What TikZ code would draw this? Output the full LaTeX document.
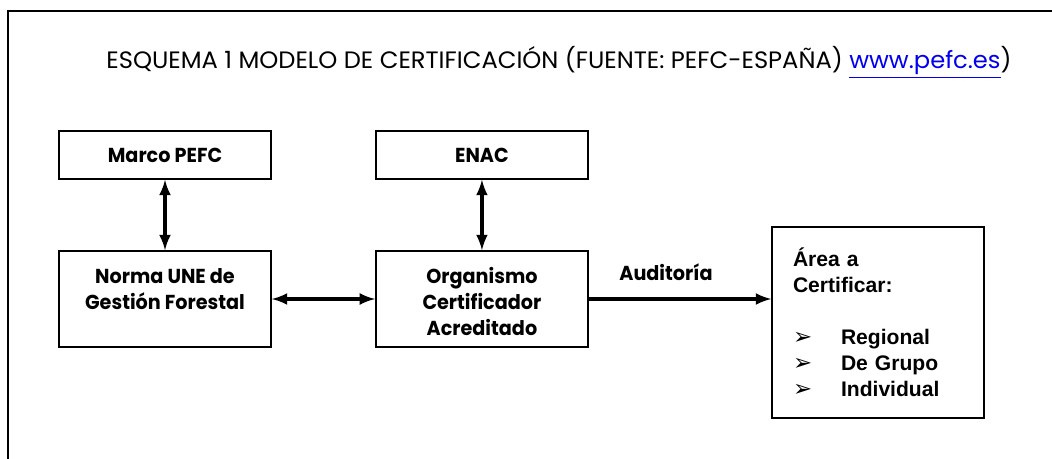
\documentclass[tikz,border=0pt]{standalone}
\usepackage{fontspec}
\usepackage{tikz}
\setmainfont{Poppins}
\newfontfamily\titlefont[FakeStretch=1.02]{Poppins}
\newfontfamily\boxfont[FakeStretch=0.95]{Poppins}
\newfontfamily\arialfont{Liberation Sans}
\newfontfamily\symfont{DejaVu Sans}
\usetikzlibrary{positioning,arrows}
\definecolor{linkblue}{RGB}{0,0,238}
\newcommand{\areaitem}[1]{\makebox[0.96cm][l]{\symfont\mdseries\fontsize{13}{14.8}\selectfont ➢}#1}

\begin{document}
\begin{tikzpicture}[x=0.02cm,y=-0.02cm,<->,>=latex,line width=2pt,
                    node distance=6.34cm]
  \tikzstyle{box}=[draw,line width=0.9pt,minimum width=4.24cm,align=center,
                   font=\boxfont\bfseries\fontsize{11.5}{14.8}\selectfont]
  \tikzstyle{top box}=[box,minimum height=0.96cm]
  \tikzstyle{low box}=[box,minimum height=1.92cm]

  \useasboundingbox (0,0) rectangle (1052,459);
  \draw[-,line width=1.1pt] (8,459) -- (8,11) -- (1052,11);

  \node[anchor=base,font=\titlefont\fontsize{13.5}{16}\selectfont] (title) at (559,69)
    {ESQUEMA 1 MODELO DE CERTIFICACIÓN (FUENTE: PEFC-ESPAÑA) \textcolor{linkblue}{\underline{www.pefc.es}})};

  \node[top box] (marco)                  at (165,155) {Marco PEFC};
  \node[top box] (enac)  [right of=marco]              {ENAC};
  \node[low box] (norma)                  at (165,299) {Norma UNE de\\Gestión Forestal\\[-3pt]\mbox{}};
  \node[low box] (org)   [right of=norma]              {\mbox{}\\[-2.2pt]Organismo\\Certificador\\Acreditado};
  \node[draw,line width=0.9pt,minimum height=3.82cm,text width=3.4cm,
        inner xsep=0.42cm,align=left,
        font=\arialfont\bfseries\fontsize{12}{14.8}\selectfont]
                 (area)                   at (878,322.5)
    {Área a\\Certificar:\\[14.8pt]\areaitem{Regional}\\\areaitem{De Grupo}\\\areaitem{Individual}};

  \draw (marco) -- (norma);
  \draw (enac)  -- (org);
  \draw (norma) -- (org);
  \draw[->] (org) -- (org -| area.west)
    node[midway,above=6pt,xshift=-0.28cm,font=\boxfont\bfseries\fontsize{11.5}{14.8}\selectfont] {Auditoría};
\end{tikzpicture}
\end{document}
